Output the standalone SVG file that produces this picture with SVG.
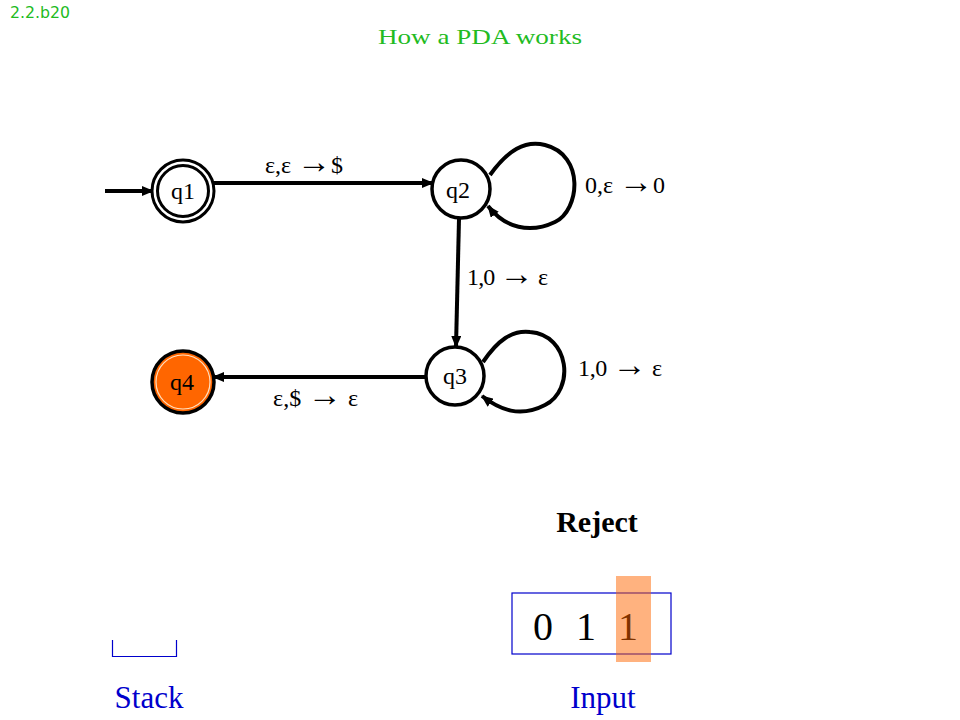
<svg xmlns="http://www.w3.org/2000/svg" width="960" height="720" viewBox="0 0 960 720">
<style>
.st{fill:#fff;stroke:#000;stroke-width:3.5}
.lbl{font-family:"Liberation Serif","Times New Roman",serif;font-size:24px;fill:#000}
.ar{font-size:34px}
.e{fill:none;stroke:#000;stroke-width:4}
.blue{font-family:"Liberation Serif","Times New Roman",serif;font-size:31px;fill:#0000cc}
</style>
<defs>
<marker id="ah" markerUnits="userSpaceOnUse" markerWidth="12" markerHeight="10" refX="11" refY="5" orient="auto">
<path d="M0,0 L12,5 L0,10 z" fill="#000"/>
</marker>
</defs>
<rect width="960" height="720" fill="#fff"/>
<text x="10" y="18" font-family="'DejaVu Sans',Verdana,sans-serif" font-size="15" fill="#22bb22" textLength="60" lengthAdjust="spacingAndGlyphs">2.2.b20</text>
<text x="480" y="44" text-anchor="middle" font-family="'Liberation Serif','Times New Roman',serif" font-size="22" fill="#22bb22" textLength="204" lengthAdjust="spacingAndGlyphs">How a PDA works</text>

<g id="connectors">
<path class="e" d="M105 191 L153 191" marker-end="url(#ah)"/>
<path class="e" d="M214 183 L433 183" marker-end="url(#ah)"/>
<path class="e" d="M459 219 L456 347" marker-end="url(#ah)"/>
<path class="e" d="M426 377 L213 377" marker-end="url(#ah)"/>
<path class="e" d="M490 175 C508 150 525 140 545 145 C585 155 580 210 555 222 C530 234 505 228 488 206" marker-end="url(#ah)"/>
<path class="e" d="M483 362 C498 340 512 330 530 332 C570 335 575 390 545 405 C520 418 500 410 482 396" marker-end="url(#ah)"/>
<text class="lbl" x="265" y="173" textLength="78" lengthAdjust="spacing">ε,ε <tspan class="ar">→</tspan>$</text>
<text class="lbl" x="585" y="193" textLength="80" lengthAdjust="spacing">0,ε <tspan class="ar">→</tspan>0</text>
<text class="lbl" x="467" y="285" textLength="81" lengthAdjust="spacing">1,0 <tspan class="ar">→</tspan> ε</text>
<text class="lbl" x="578" y="376" textLength="84" lengthAdjust="spacing">1,0 <tspan class="ar">→</tspan> ε</text>
<text class="lbl" x="273" y="406" textLength="85" lengthAdjust="spacing">ε,$ <tspan class="ar">→</tspan> ε</text>
</g>

<g id="q1">
<circle cx="183" cy="191" r="31" fill="#fff" stroke="#000" stroke-width="3"/>
<circle cx="183" cy="191" r="25.5" fill="none" stroke="#000" stroke-width="3"/>
<text class="lbl" x="183" y="199" text-anchor="middle">q1</text>
</g>
<g id="q2">
<circle class="st" cx="461" cy="189" r="29"/>
<text class="lbl" x="458" y="198" text-anchor="middle">q2</text>
</g>
<g id="q3">
<circle class="st" cx="455" cy="376" r="29"/>
<text class="lbl" x="455" y="384" text-anchor="middle">q3</text>
</g>
<g id="q4">
<circle cx="183" cy="382" r="31" fill="#ff6600" stroke="#000" stroke-width="3.5"/>
<circle cx="183" cy="382" r="27" fill="none" stroke="#ffe0c0" stroke-width="1.2"/>
<text class="lbl" x="182" y="390" text-anchor="middle">q4</text>
</g>

<text x="597" y="532" text-anchor="middle" font-family="'Liberation Serif','Times New Roman',serif" font-size="30" font-weight="bold" fill="#000">Reject</text>

<g id="input">
<rect x="512" y="593" width="159" height="61" fill="none" stroke="#0000cc" stroke-width="1.2"/>
<text x="543" y="640" text-anchor="middle" font-family="'Liberation Serif','Times New Roman',serif" font-size="40" fill="#000">0</text>
<text x="586" y="640" text-anchor="middle" font-family="'Liberation Serif','Times New Roman',serif" font-size="40" fill="#000">1</text>
<text x="628" y="640" text-anchor="middle" font-family="'Liberation Serif','Times New Roman',serif" font-size="40" fill="#000">1</text>
<rect x="616" y="576" width="35" height="86" fill="#ff6600" fill-opacity="0.5"/>
<text class="blue" x="603" y="708" text-anchor="middle">Input</text>
</g>

<g id="stack">
<path d="M112.5 640 L112.5 656.5 L176.5 656.5 L176.5 640" fill="none" stroke="#0000cc" stroke-width="1.2"/>
<text class="blue" x="149" y="708" text-anchor="middle">Stack</text>
</g>
</svg>
